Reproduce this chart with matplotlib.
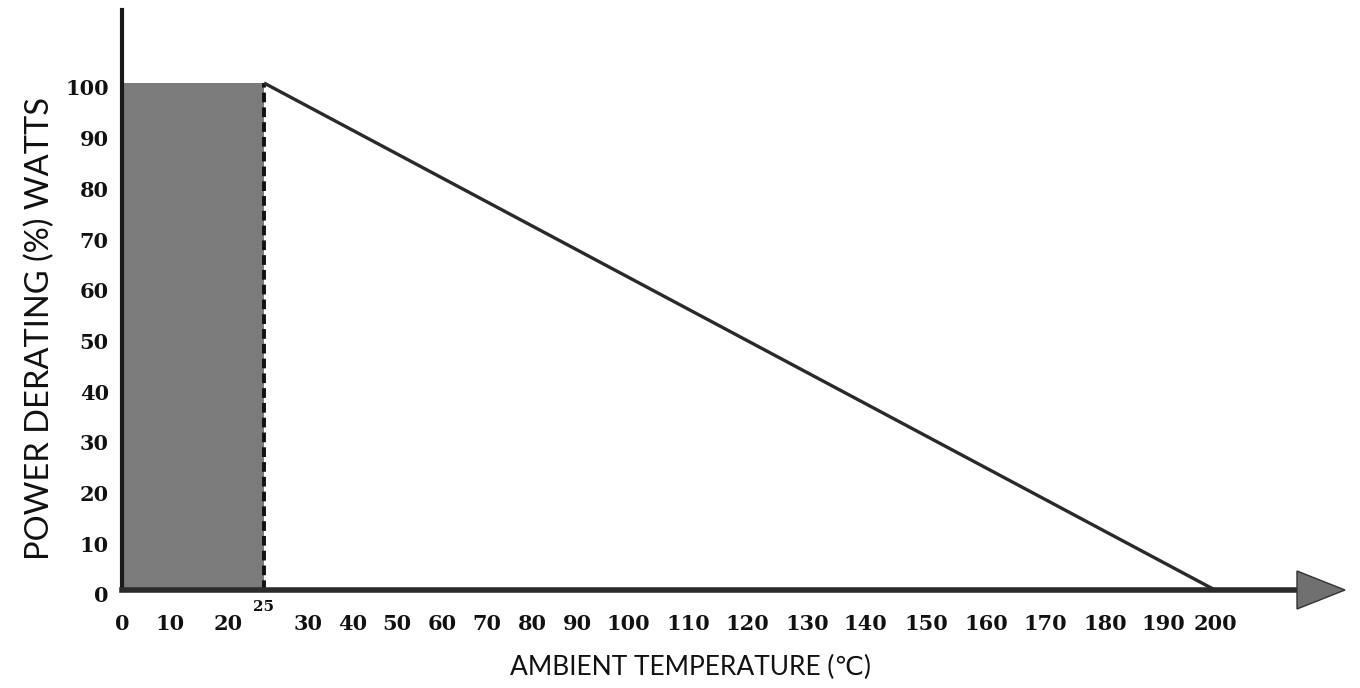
import numpy as np
import matplotlib
matplotlib.use("Agg")
import matplotlib.pyplot as plt
import matplotlib.transforms as mtransforms
from matplotlib.patches import Polygon
from matplotlib.lines import Line2D

# ---- data ----
temp_ticks = [0, 10, 20, 30, 40, 50, 60, 70, 80, 90, 100, 110, 120, 130, 140,
              150, 160, 170, 180, 190, 200]
knee_temp = 25
power_ticks = [0, 10, 20, 30, 40, 50, 60, 70, 80, 90, 100]
curve_temp = [25, 200]
curve_power = [100, 0]
full_power = 100

# ---- axis scale anchors (the printed axis is not uniformly spaced) ----
scale_vals = [0, 10, 20, 25, 30, 40, 50, 60, 70, 80, 90, 100, 110, 120, 130,
              140, 150, 160, 170, 180, 190, 200]
scale_pos = [122, 170, 228, 264, 308, 353, 397, 442, 487, 532, 577, 628, 688,
             747, 807, 865, 926, 986, 1045, 1105, 1163, 1215]


def fwd(x):
    return np.interp(x, scale_vals, scale_pos)


def inv(p):
    return np.interp(p, scale_pos, scale_vals)


W, H = 1360, 688
fig = plt.figure(figsize=(W / 100, H / 100), dpi=100)
left_px, right_px, top_px, bot_px = 122, 1215, 10, 590
ax = fig.add_axes([left_px / W, (H - bot_px) / H,
                   (right_px - left_px) / W, (bot_px - top_px) / H])
ax.set_xscale('function', functions=(fwd, inv))
ax.set_xlim(0, 200)
ytop = (bot_px - top_px) / ((bot_px - 83) / 100)
ax.set_ylim(0, ytop)

# shaded region 0..25
ax.fill_between([0, knee_temp], 0, full_power, color='#7b7b7b', lw=0, zorder=1)
# dashed vertical at 25
ax.plot([knee_temp, knee_temp], [0, full_power], color='#111111', lw=2.8,
        ls=(0, (2.5, 1.3)), zorder=3)
# derating curve
ax.plot(curve_temp, curve_power, color='#2a2a2a', lw=2.4, zorder=3,
        solid_capstyle='butt')

# spines
for s in ['top', 'right', 'bottom']:
    ax.spines[s].set_visible(False)
ax.spines['left'].set_linewidth(3)
ax.spines['left'].set_color('#1a1a1a')

# x axis line with arrow (extends beyond 200)
axw = right_px - left_px
axh = bot_px - top_px
x_end_line = (1297 - left_px) / axw
x_tip = (1345 - left_px) / axw
ax.add_line(Line2D([0, x_end_line], [0, 0], transform=ax.transAxes,
                   color='#2b2b2b', lw=4, clip_on=False, zorder=4))
tri = Polygon([[x_end_line, 19 / axh], [x_end_line, -19 / axh], [x_tip, 0]],
              closed=True, transform=ax.transAxes, facecolor='#707070',
              edgecolor='#333333', lw=1, clip_on=False, zorder=4)
ax.add_patch(tri)

tick_font = dict(family='DejaVu Serif', weight='bold', size=15)
ax.set_xticks(temp_ticks)
ax.set_xticklabels([str(t) for t in temp_ticks], fontdict=tick_font)
ax.set_xticks([knee_temp], labels=[str(knee_temp)], minor=True)
for lab in ax.get_xticklabels(minor=True):
    lab.set_fontfamily('DejaVu Serif')
    lab.set_fontweight('bold')
    lab.set_fontsize(11)
ax.tick_params(axis='x', which='major', length=0, pad=17, colors='#111111')
ax.tick_params(axis='x', which='minor', length=0, pad=7, colors='#111111')

ax.set_yticks(power_ticks)
ax.set_yticklabels([str(p) for p in power_ticks], fontdict=tick_font)
ax.tick_params(axis='y', length=0, pad=9.5, colors='#111111')
offset = mtransforms.ScaledTranslation(0, -4.5 / 100, fig.dpi_scale_trans)
for lab in ax.get_yticklabels():
    lab.set_transform(lab.get_transform() + offset)

fig.text(40 / W, 1 - 328 / H, 'POWER DERATING (%) WATTS', rotation=90,
         ha='center', va='center', fontsize=23.5, family=['Lato', 'DejaVu Sans'],
         color='#111111')
fig.text(691 / W, 1 - 667 / H, 'AMBIENT TEMPERATURE (\u2103)', ha='center',
         va='center', fontsize=19, family=['Lato', 'DejaVu Sans'],
         color='#111111')

fig.savefig('out.png', dpi=100)
